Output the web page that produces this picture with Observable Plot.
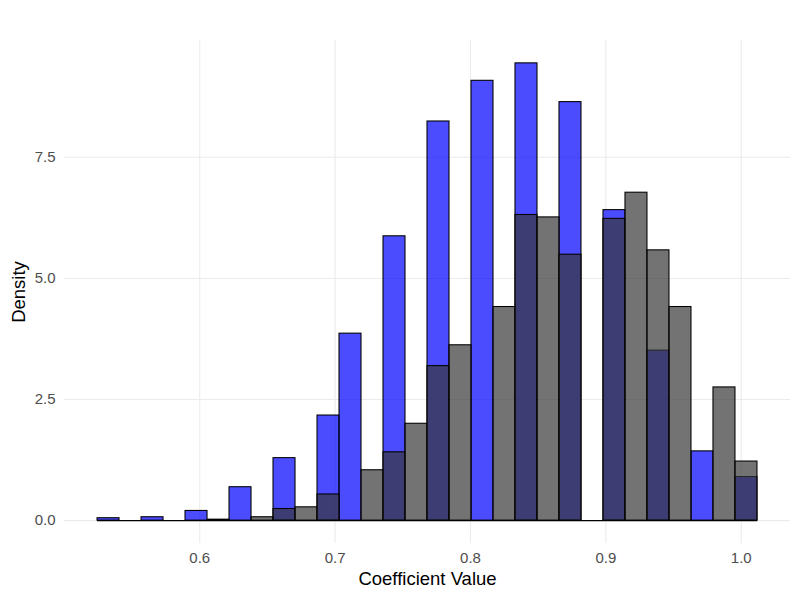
<!DOCTYPE html>
<html><head><meta charset="utf-8">
<script src="https://cdn.jsdelivr.net/npm/d3@7"></script>
<script src="https://cdn.jsdelivr.net/npm/@observablehq/plot@0.6"></script>
<style>body{margin:0;background:#fff}</style>
</head><body><div id="chart"></div>
<script>
// Histogram bin edges (30 bins)
const binEdges = [0.5245, 0.54075, 0.557, 0.57325, 0.5895, 0.60575, 0.622, 0.63825, 0.6545, 0.67075,
  0.687, 0.70325, 0.7195, 0.73575, 0.752, 0.76825, 0.7845, 0.80075, 0.817, 0.83325,
  0.8495, 0.86575, 0.882, 0.89825, 0.9145, 0.93075, 0.947, 0.96325, 0.9795, 0.99575, 1.012];
// Density per bin, blue series
const blueDensity = [0.05, 0, 0.07, 0, 0.2, 0, 0.69, 0, 1.29, 0,
  2.17, 3.86, 0, 5.87, 0, 8.24, 0, 9.08, 0, 9.44,
  0, 8.64, 0, 6.41, 0, 3.51, 0, 1.43, 0, 0.90];
// Density per bin, gray series
const grayDensity = [0, 0, 0, 0, 0, 0.02, 0, 0.07, 0.24, 0.275,
  0.54, 0, 1.04, 1.41, 2.0, 3.19, 3.62, 0, 4.41, 6.31,
  6.26, 5.49, 0, 6.23, 6.77, 5.58, 4.41, 0, 2.75, 1.22];
const xTicks = [0.6, 0.7, 0.8, 0.9, 1.0];
const yTicks = [0, 2.5, 5, 7.5];
const xTitle = "Coefficient Value";
const yTitle = "Density";

const toRows = (vals, series) => vals.map((v, i) => ({x0: binEdges[i], x1: binEdges[i + 1], density: v, series}));
const blueRows = toRows(blueDensity, "blue");
const grayRows = toRows(grayDensity, "gray");
const baseline = [{x1: binEdges[0], x2: binEdges[binEdges.length - 1], y: 0}];

const chart = Plot.plot({
  width: 800, height: 600,
  marginLeft: 64, marginRight: 10, marginTop: 40, marginBottom: 57,
  style: {fontFamily: "'Liberation Sans', Arial, sans-serif", background: "#fff"},
  x: {domain: [0.5001, 1.0364]},
  y: {domain: [-0.472, 9.912]},
  marks: [
    Plot.gridX(xTicks, {stroke: "#ebebeb", strokeOpacity: 1, strokeWidth: 1.07}),
    Plot.gridY(yTicks, {stroke: "#ebebeb", strokeOpacity: 1, strokeWidth: 1.07}),
    Plot.rectY(blueRows, {x1: "x0", x2: "x1", y: "density", fill: "#0000ff", fillOpacity: 0.7, stroke: "black", strokeWidth: 1.07}),
    Plot.rectY(grayRows, {x1: "x0", x2: "x1", y: "density", fill: "#373737", fillOpacity: 0.7, stroke: "black", strokeWidth: 1.07}),
    Plot.ruleY(baseline, {x1: "x1", x2: "x2", y: "y", stroke: "black", strokeWidth: 1.07}),
    Plot.axisX(xTicks, {tickSize: 0, tickPadding: 9, tickFormat: d3.format(".1f"), fontSize: 15, fill: "#4d4d4d", label: null}),
    Plot.axisY(yTicks, {tickSize: 0, tickPadding: 9, tickFormat: d3.format(".1f"), fontSize: 15, fill: "#4d4d4d", label: null}),
    Plot.text([xTitle], {frameAnchor: "bottom", dy: 41, fontSize: 18.5, fill: "black"}),
    Plot.text([yTitle], {frameAnchor: "left", textAnchor: "middle", lineAnchor: "middle", rotate: -90, dx: -45, fontSize: 18.5, fill: "black"})
  ]
});
document.getElementById("chart").append(chart);
</script>
</body></html>
